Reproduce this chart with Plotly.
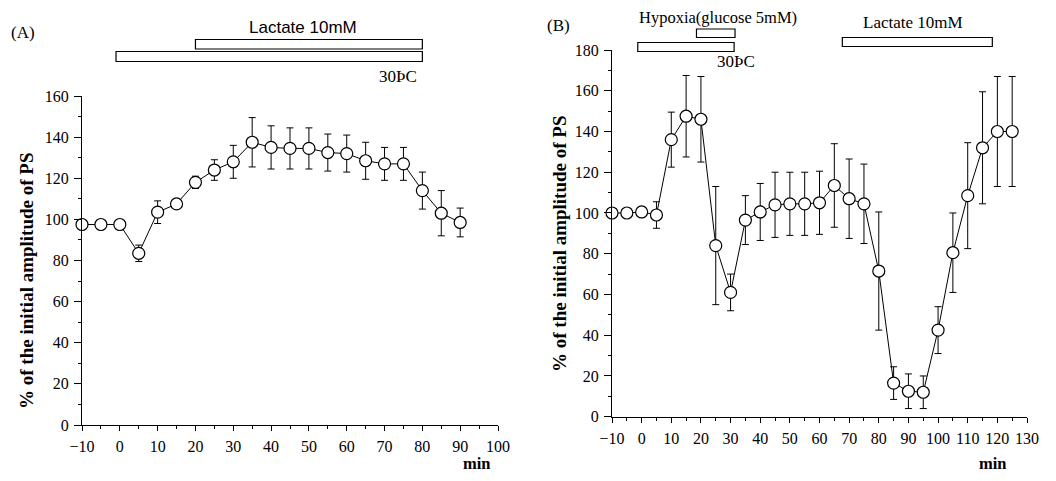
import plotly.graph_objects as go

# ---------------- data ----------------
time_a = [-10, -5, 0, 5, 10, 15, 20, 25, 30, 35, 40, 45, 50, 55, 60, 65, 70, 75, 80, 85, 90]
ps_a = [97.5, 97.5, 97.5, 83.5, 103.5, 107.5, 118, 124, 128, 137.5, 135, 134.5, 134.5, 132.5, 132, 128.5, 127, 127, 114, 103, 98.5]
err_a = [1, 1, 1, 4, 5.5, 1.5, 3, 5, 8, 12, 10.5, 10, 10, 9, 9, 9, 8, 8, 9, 11, 7]

time_b = [-10, -5, 0, 5, 10, 15, 20, 25, 30, 35, 40, 45, 50, 55, 60, 65, 70, 75,
          80, 85, 90, 95, 100, 105, 110, 115, 120, 125]
ps_b = [100, 100, 100.5, 99, 136, 147.5, 146, 84, 61, 96.5, 100.5, 104, 104.5, 104.5, 105, 113.5, 107, 104.5,
        71.5, 16.5, 12.5, 12, 42.5, 80.5, 108.5, 132, 140, 140]
err_b = [1, 1, 1, 6.5, 13.5, 20, 21, 29, 9, 12, 14, 16, 15.5, 15.5, 15.5, 20.5, 19.5, 19.5,
         29, 8, 8.5, 8, 11.5, 19.5, 26, 27.5, 27, 27]

# treatment periods (min)
lactate_a = [20, 80]
temp_a = [-1, 80]
hypoxia_b = [18.5, 31.5]
temp_b = [-1.3, 31.2]
lactate_b = [67.7, 118.3]

xticks_a = list(range(-10, 101, 10))
yticks_a = list(range(0, 161, 20))
xticks_b = list(range(-10, 131, 10))
yticks_b = list(range(0, 181, 20))

# ---------------- layout geometry ----------------
OFF = 8            # page body margin
W, H = 1056 - 2 * OFF, 481 - 2 * OFF


def px(x):
    return (x - OFF) / W


def py(y):
    return 1 - (y - OFF) / H


xr_a, yr_a = [-10, 100], [0, 160]
xr_b, yr_b = [-10, 130], [0, 180]
xd_a = [px(82), px(498)]
yd_a = [py(425), py(96)]
xd_b = [px(612), px(1027)]
yd_b = [py(416.7), py(50)]


def xpaper(v, rng, dom):
    return dom[0] + (v - rng[0]) / (rng[1] - rng[0]) * (dom[1] - dom[0])


SERIF = "Liberation Serif, Times New Roman, serif"
SANS = "Liberation Sans, Arial, sans-serif"

fig = go.Figure()

marker = dict(symbol="circle", size=12, color="white", line=dict(color="black", width=1.2))
eb = dict(type="data", color="black", thickness=1, width=3.5)

fig.add_trace(go.Scatter(x=time_a, y=ps_a, mode="lines+markers", marker=marker,
                         line=dict(color="black", width=1),
                         error_y=dict(array=err_a, **eb), cliponaxis=False,
                         xaxis="x", yaxis="y", showlegend=False))
fig.add_trace(go.Scatter(x=time_b, y=ps_b, mode="lines+markers", marker=marker,
                         line=dict(color="black", width=1),
                         error_y=dict(array=err_b, **eb), cliponaxis=False,
                         xaxis="x2", yaxis="y2", showlegend=False))

axis_common = dict(showline=True, linecolor="black", linewidth=1.2, showgrid=False, zeroline=False,
                   ticks="outside", tickwidth=1, tickcolor="black", automargin=False,
                   tickfont=dict(family=SERIF, size=16, color="black"))
xax = dict(ticklen=5, ticklabelstandoff=2, **axis_common)
yax = dict(ticklen=7, ticklabelstandoff=2, **axis_common)

fig.update_layout(
    width=W, height=H, margin=dict(l=0, r=0, t=0, b=0, autoexpand=False),
    paper_bgcolor="white", plot_bgcolor="white",
    xaxis=dict(domain=xd_a, range=xr_a, anchor="y", tickvals=xticks_a,
               minor=dict(dtick=5, tick0=-10, ticks="outside", ticklen=3, tickcolor="black"),
               **xax),
    yaxis=dict(domain=yd_a, range=yr_a, anchor="x", tickvals=yticks_a,
               minor=dict(dtick=10, tick0=0, ticks="outside", ticklen=3, tickcolor="black"),
               **yax),
    xaxis2=dict(domain=xd_b, range=xr_b, anchor="y2", tickvals=xticks_b,
                minor=dict(dtick=5, tick0=-10, ticks="outside", ticklen=3, tickcolor="black"),
                **xax),
    yaxis2=dict(domain=yd_b, range=yr_b, anchor="x2", tickvals=yticks_b,
                minor=dict(dtick=10, tick0=0, ticks="outside", ticklen=3, tickcolor="black"),
                **yax),
)


# treatment bars (white rectangles with black outline)
def bar(period, rng, dom, ytop, ybot):
    fig.add_shape(type="rect", xref="paper", yref="paper",
                  x0=xpaper(period[0], rng, dom), x1=xpaper(period[1], rng, dom),
                  y0=py(ybot), y1=py(ytop),
                  line=dict(color="black", width=1.2), fillcolor="white")


bar(lactate_a, xr_a, xd_a, 39.5, 49)
bar(temp_a, xr_a, xd_a, 51.5, 61.5)
bar(hypoxia_b, xr_b, xd_b, 29, 37.5)
bar(temp_b, xr_b, xd_b, 42.5, 51.5)
bar(lactate_b, xr_b, xd_b, 37.5, 46.5)


def text(t, x, y, family=SERIF, size=17, bold=False, angle=0):
    fig.add_annotation(text=("<b>%s</b>" % t) if bold else t, x=px(x), y=py(y),
                       xref="paper", yref="paper", showarrow=False, textangle=angle,
                       xanchor="center", yanchor="middle",
                       font=dict(family=family, size=size, color="black"))


text("(A)", 23, 32)
text("Lactate 10mM", 303, 27, family=SANS, size=17)
text("30ÞC", 398, 76)
text("(B)", 558, 25)
text("Hypoxia(glucose 5mM)", 718, 18, size=16.5)
text("Lactate 10mM", 913, 23)
text("30ÞC", 736, 61)
text("min", 477, 463, bold=True, size=16.5)
text("min", 993, 463, bold=True, size=16.5)
text("% of the initial amplitude of PS", 26, 281, size=19, bold=True, angle=-90)
text("% of the initial amplitude of PS", 559, 244, size=19, bold=True, angle=-90)

fig.write_html("out.html")
